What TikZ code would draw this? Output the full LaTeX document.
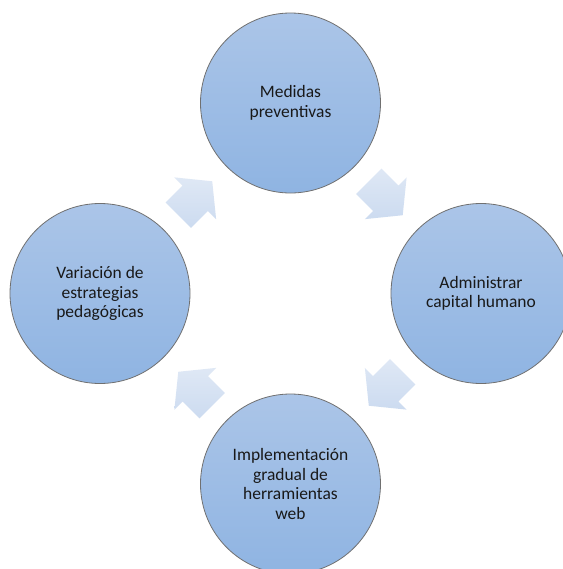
\documentclass[tikz,border=0pt]{standalone}
\usepackage{fontspec}
\setmainfont{Carlito}
\usetikzlibrary{calc}
\definecolor{circtop}{RGB}{171,197,232}
\definecolor{circbot}{RGB}{143,180,226}
\definecolor{circline}{RGB}{112,112,112}
\definecolor{arrtop}{RGB}{223,232,245}
\definecolor{arrbot}{RGB}{204,219,240}
\definecolor{txt}{RGB}{25,25,25}
\tikzset{
  stage/.style={circle, draw=circline, line width=0.6pt, top color=circtop, bottom color=circbot,
    minimum size=135pt, inner sep=0pt, align=center, text=txt,
    font=\fontsize{13.1pt}{14.6pt}\selectfont},
  blockarrow/.style={top color=arrtop, bottom color=arrbot, draw=none},
  blockarr/.pic={\path[blockarrow] (-24,-18) -- (0,-18) -- (0,-29.5) -- (24,0) -- (0,29.5) -- (0,18) -- (-24,18) -- cycle;}
}
\begin{document}
\begin{tikzpicture}[x=0.75pt,y=-0.75pt]
\fill[white] (0,0) rectangle (562,569);
\useasboundingbox (0,0) rectangle (562,569);
\node[stage] (ntop) at (290.5,103) {Medidas\\preventivas};
\node[stage] (nright) at (481,293.5) {Administrar\\capital humano};
\node[stage] (nbottom) at (290.5,484) {Implementación\\gradual de\\herramientas\\web};
\node[stage] (nleft) at (100,293.5) {Variación de\\estrategias\\pedagógicas};
\path (ntop) -- (nright) coordinate[midway] (m1);
\path (nright) -- (nbottom) coordinate[midway] (m2);
\path (nbottom) -- (nleft) coordinate[midway] (m3);
\path (nleft) -- (ntop) coordinate[midway] (m4);
\pic[rotate=-45] at (m1) {blockarr};
\pic[rotate=-135] at (m2) {blockarr};
\pic[rotate=135] at (m3) {blockarr};
\pic[rotate=45] at (m4) {blockarr};
\end{tikzpicture}
\end{document}
